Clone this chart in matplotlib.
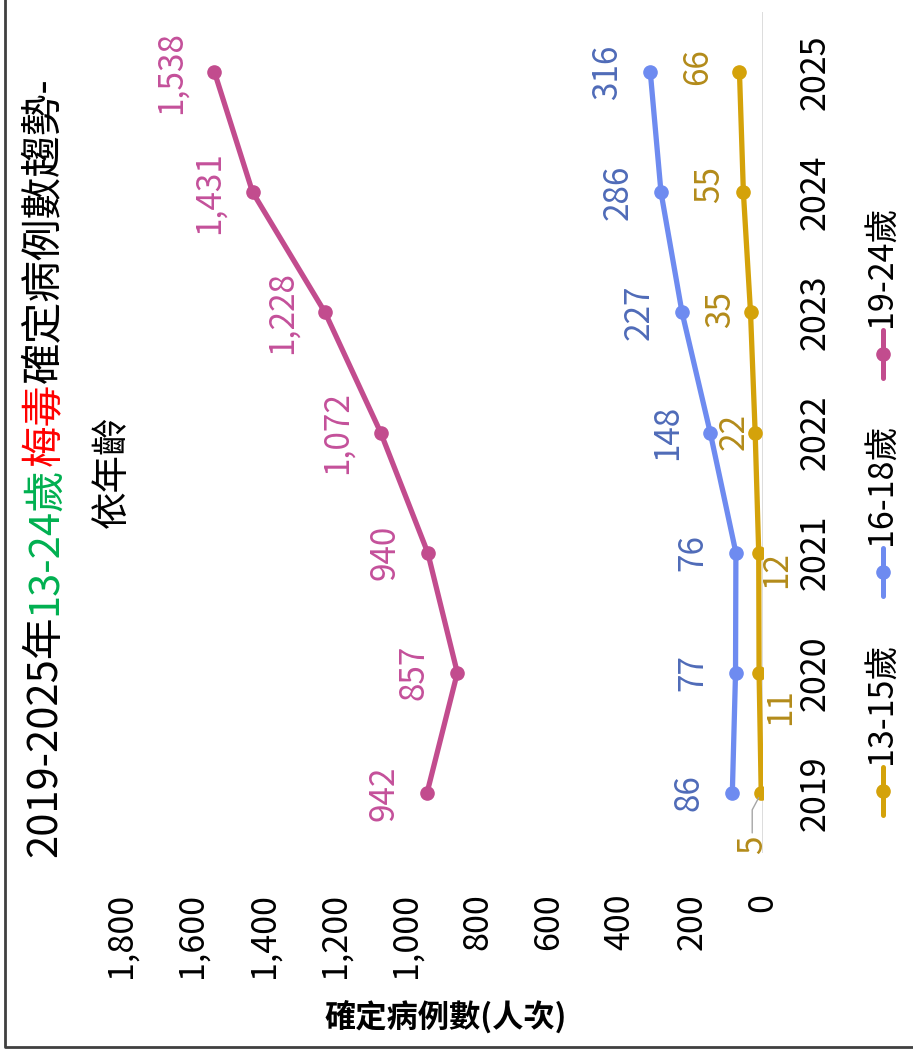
import numpy as np
import matplotlib
matplotlib.use("Agg")
import matplotlib.pyplot as plt
from matplotlib.transforms import Affine2D
from matplotlib.lines import Line2D

plt.rcParams['font.family'] = ['Noto Sans CJK TC', 'DejaVu Sans']

# data
years = [2019, 2020, 2021, 2022, 2023, 2024, 2025]
age_13_15 = [5, 11, 12, 22, 35, 55, 66]
age_16_18 = [86, 77, 76, 148, 227, 286, 316]
age_19_24 = [942, 857, 940, 1072, 1228, 1431, 1538]
series_names = ['13-15歲', '16-18歲', '19-24歲']
value_ticks = [0, 200, 400, 600, 800, 1000, 1200, 1400, 1600, 1800]

# label offsets for the 13-15 series (pixels, image coords: +x right, +y down)
gold_offsets = [(-9, 52), (22, 34), (18, 17), (-21, -1), (-30, -3), (-34, -8), (-42, -5)]

W, H = 913, 1056
fig = plt.figure(figsize=(W / 100, H / 100), dpi=100)
px = Affine2D().scale(1 / W, -1 / H).translate(0, 1) + fig.transFigure

# chart is drawn turned 90 degrees: years run down the page, values run right->left
ax = fig.add_axes([121 / W, 1 - 853 / H, 642 / W, 841 / H])
ax.set_xlim(1800, 0)
ax.set_ylim(2018.5, 2025.5)
for s in ax.spines.values():
    s.set_visible(False)
ax.axvline(0, color='#D9D9D9', lw=2, zorder=1)

gold, blue, pink = '#D4A20A', '#6E8BF0', '#C24C8E'
gold_lbl, blue_lbl, pink_lbl = '#B38B1A', '#4F6BB8', '#C4509A'

for vals, c in [(age_13_15, gold), (age_16_18, blue), (age_19_24, pink)]:
    ax.plot(vals, years, color=c, lw=3.8, marker='o', ms=9.5, zorder=3)

for vals, c in [(age_19_24, pink_lbl), (age_16_18, blue_lbl)]:
    for v, y in zip(vals, years):
        ax.annotate(f"{v:,}", xy=(v, y), xytext=(-43, 0), textcoords='offset pixels',
                    rotation=90, ha='center', va='center', color=c, fontsize=24)

for i, (v, y) in enumerate(zip(age_13_15, years)):
    dx, dy = gold_offsets[i]
    kw = {}
    if i == 0:
        kw['arrowprops'] = dict(arrowstyle='-', color='#A6A6A6', lw=1,
                                shrinkA=0, shrinkB=4,
                                connectionstyle='angle,angleA=90,angleB=62,rad=0')
    ax.annotate(f"{v:,}", xy=(v, y), xytext=(dx, -dy), textcoords='offset pixels',
                rotation=90, ha='center', va='center', color=gold_lbl, fontsize=24, **kw)

ax.set_xticks(value_ticks)
ax.set_xticklabels([f"{t:,}" for t in value_ticks], rotation=90, fontsize=24.5)
ax.set_yticks(years)
ax.set_yticklabels([str(y) for y in years], rotation=90, fontsize=24.5, va='center')
ax.yaxis.tick_right()
ax.tick_params(axis='x', length=0, pad=29)
ax.tick_params(axis='y', length=0, pad=25)

# axis title
fig.text(446, 1017, '確定病例數(人次)', transform=px, ha='center', va='center',
         fontsize=22.5, fontweight='bold')

# title, built from coloured pieces stacked bottom-to-top
parts = [('2019-2025年', 'black'), ('13-24歲', '#00B050'),
         ('梅毒', '#FF0000'), ('確定病例數趨勢-', 'black')]
renderer = fig.canvas.get_renderer()
full = ''.join(s for s, _ in parts)
probe = fig.text(0, 0, full, rotation=90, fontsize=30)
total = probe.get_window_extent(renderer).height
start = 467 + total / 2
prefix = ''
for s, c in parts:
    off = 0
    if prefix:
        probe.set_text(prefix)
        off = probe.get_window_extent(renderer).height
    fig.text(45, start - off, s, transform=px, rotation=90, rotation_mode='anchor',
             ha='left', va='center', color=c, fontsize=30)
    prefix += s
probe.remove()
fig.text(112, 472, '依年齡', transform=px, rotation=90, ha='center', va='center',
         fontsize=27)

# legend, turned like the chart
for name, c, ym in zip(series_names, [gold, blue, pink], [791, 572, 354]):
    fig.add_artist(Line2D([883, 883], [ym - 24, ym + 24], transform=px, color=c,
                          lw=3.6, solid_capstyle='round'))
    fig.add_artist(Line2D([883], [ym], transform=px, color=c, marker='o', ms=9.5))
    fig.text(881, ym - 27, name, transform=px, rotation=90, rotation_mode='anchor',
             ha='left', va='center', fontsize=24.5)

# outer frame
fig.add_artist(Line2D([5, 5, W + 5], [-5, 1047, 1047], transform=px, color='#404040', lw=2))

fig.savefig('out.png', dpi=100)
